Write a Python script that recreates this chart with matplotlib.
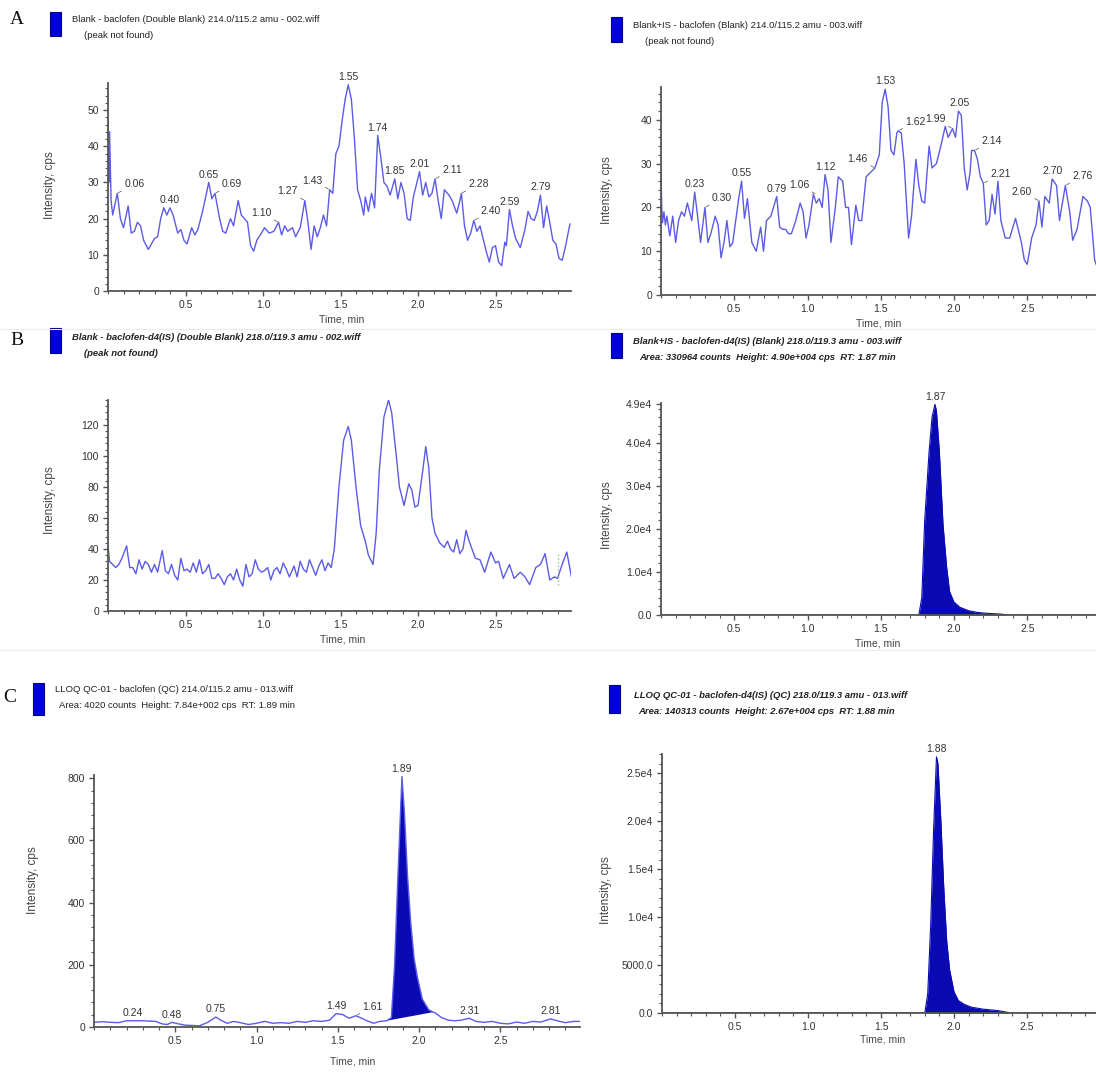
import numpy as np
import matplotlib
matplotlib.use("Agg")
import matplotlib.pyplot as plt
from matplotlib.patches import Rectangle
from matplotlib.ticker import MultipleLocator, AutoMinorLocator, FixedLocator, FixedFormatter

plt.rcParams['font.family'] = ['Liberation Sans', 'DejaVu Sans']

W, H = 1096, 1072

# ---------------- data ----------------
# A, left: baclofen, double blank
a1_t = [0.00, 0.005, 0.01, 0.02, 0.03, 0.045, 0.06, 0.08, 0.10, 0.13, 0.15, 0.17, 0.19, 0.21, 0.23,
        0.26, 0.28, 0.30, 0.32, 0.34, 0.36, 0.38, 0.40, 0.42, 0.45, 0.47, 0.49, 0.51, 0.54, 0.56,
        0.58, 0.61, 0.63, 0.65, 0.67, 0.69, 0.72, 0.74, 0.76, 0.79, 0.81, 0.84, 0.86, 0.88, 0.90,
        0.92, 0.94, 0.96, 0.99, 1.01, 1.04, 1.07, 1.10, 1.12, 1.14, 1.16, 1.19, 1.21, 1.24, 1.27,
        1.29, 1.31, 1.33, 1.35, 1.37, 1.39, 1.41, 1.43, 1.45, 1.47, 1.49, 1.51, 1.53, 1.55, 1.57,
        1.59, 1.61, 1.63, 1.65, 1.66, 1.68, 1.70, 1.72, 1.74, 1.76, 1.78, 1.80, 1.82, 1.85, 1.87,
        1.89, 1.91, 1.93, 1.95, 1.97, 2.01, 2.03, 2.05, 2.07, 2.09, 2.11, 2.13, 2.15, 2.17, 2.20,
        2.22, 2.25, 2.27, 2.28, 2.30, 2.32, 2.34, 2.36, 2.38, 2.40, 2.42, 2.44, 2.46, 2.48, 2.50,
        2.52, 2.54, 2.56, 2.57, 2.59, 2.61, 2.63, 2.66, 2.69, 2.71, 2.73, 2.75, 2.77, 2.79, 2.81,
        2.83, 2.85, 2.87, 2.89, 2.91, 2.93, 2.95, 2.98]
a1_y = [48, 30, 44, 25, 21, 24, 27, 20, 17.5, 23.5, 16, 16.5, 19, 18, 14,
        11.5, 13, 14.5, 15, 20, 23, 21, 23, 21, 16, 17, 14, 13, 17.5, 15.5,
        17, 22, 26, 30, 25.5, 27, 20, 16.5, 16, 20, 18, 25, 21, 20, 19,
        12.5, 11, 14, 16, 17.5, 16, 16.5, 19, 15.5, 18, 16.5, 17.5, 15, 17.5, 25,
        19, 11.5, 18, 15, 17.5, 21, 18, 28, 27, 38, 40, 47, 53, 57, 53,
        42, 28, 25, 21, 26, 22, 27, 23, 43, 37, 30, 29, 26.5, 31, 25.5,
        30, 27, 20, 19.5, 26, 33, 26.5, 30, 26, 27, 31, 25, 20, 28, 26.5,
        25, 21.5, 25, 27, 18, 14, 16, 19.5, 16.5, 18, 14.5, 11, 8, 12, 12.5,
        8, 7, 13.5, 12.5, 22.5, 18, 14.5, 12, 17, 22, 20, 19.5, 22, 26.5, 17.5,
        23.5, 19, 14, 13, 9, 8.5, 12, 18.5]
a1_labels = [("0.06", 0.06, 27, 'r'), ("0.40", 0.40, 23, 'c'), ("0.65", 0.65, 30, 'c'),
             ("0.69", 0.69, 27, 'r'), ("1.10", 1.10, 19, 'l'), ("1.27", 1.27, 25, 'l'),
             ("1.43", 1.43, 28, 'l'), ("1.55", 1.55, 57, 'c'), ("1.74", 1.74, 43, 'c'),
             ("1.85", 1.85, 31, 'c'), ("2.01", 2.01, 33, 'c'), ("2.11", 2.11, 31, 'r'),
             ("2.28", 2.28, 27, 'r'), ("2.40", 2.36, 19.5, 'r'), ("2.59", 2.59, 22.5, 'c'),
             ("2.79", 2.79, 26.5, 'c')]

# A, right: baclofen, blank + IS
a2_t = [0.00, 0.005, 0.01, 0.02, 0.03, 0.04, 0.06, 0.08, 0.10, 0.12, 0.14, 0.16, 0.18, 0.21, 0.23,
        0.25, 0.27, 0.30, 0.32, 0.34, 0.37, 0.39, 0.41, 0.43, 0.45, 0.47, 0.49, 0.51, 0.53, 0.55,
        0.57, 0.59, 0.62, 0.65, 0.68, 0.70, 0.72, 0.75, 0.79, 0.81, 0.83, 0.85, 0.87, 0.89, 0.92,
        0.95, 0.97, 0.99, 1.01, 1.04, 1.06, 1.08, 1.10, 1.12, 1.14, 1.16, 1.19, 1.21, 1.24, 1.26,
        1.28, 1.30, 1.33, 1.35, 1.37, 1.40, 1.43, 1.46, 1.49, 1.51, 1.53, 1.55, 1.57, 1.59, 1.61,
        1.62, 1.64, 1.66, 1.69, 1.71, 1.74, 1.76, 1.78, 1.80, 1.83, 1.85, 1.88, 1.91, 1.94, 1.96,
        1.99, 2.01, 2.03, 2.05, 2.07, 2.09, 2.11, 2.12, 2.14, 2.16, 2.18, 2.20, 2.22, 2.24, 2.26,
        2.28, 2.30, 2.32, 2.35, 2.38, 2.42, 2.46, 2.48, 2.50, 2.53, 2.56, 2.58, 2.60, 2.62, 2.65,
        2.67, 2.70, 2.72, 2.76, 2.79, 2.81, 2.84, 2.88, 2.91, 2.93, 2.96, 2.97]
a2_y = [28, 20, 16.5, 19, 16, 18, 13.5, 18, 12, 17, 19, 18, 21, 17, 23.5,
        18, 12, 20, 12, 14, 18, 16, 8.5, 12, 17, 11, 12, 17, 22, 26,
        17.5, 22, 12, 10, 15.5, 10, 17, 18, 22.5, 15.5, 15, 15, 14, 14, 17,
        21, 19, 13, 16, 23, 21, 22, 20, 27.5, 24, 12, 20, 27, 26, 20,
        20, 11.5, 20.5, 17, 17, 27, 28, 29, 32, 44, 47, 43, 33, 32, 37,
        37.5, 37, 30, 13, 18, 31, 25, 21.5, 21, 34, 29, 30, 34, 38.5, 36,
        38, 36, 42, 41, 29, 24, 28, 33, 33, 31, 27, 25.5, 16, 17, 23,
        18.5, 26, 17, 13, 13, 17.5, 12, 8, 7, 13, 16, 21.5, 15.5, 22.5, 21,
        26.5, 25, 17, 25, 19, 12.5, 15, 22.5, 21.5, 20, 8, 7]
a2_labels = [("0.23", 0.23, 23.5, 'c'), ("0.30", 0.30, 20, 'r'), ("0.55", 0.55, 26, 'c'),
             ("0.79", 0.79, 22.5, 'c'), ("1.06", 1.06, 23, 'l'), ("1.12", 1.12, 27.5, 'c'),
             ("1.46", 1.46, 29, 'l'), ("1.53", 1.53, 47, 'c'), ("1.62", 1.62, 37.5, 'r'),
             ("1.99", 1.99, 38, 'l'), ("2.05", 2.04, 42, 'c'), ("2.14", 2.14, 33, 'r'),
             ("2.21", 2.20, 25.5, 'r'), ("2.60", 2.58, 21.5, 'l'), ("2.70", 2.67, 26.5, 'c'),
             ("2.76", 2.76, 25, 'r')]

# B, left: baclofen-d4 (IS), double blank
b1_t = [0.00, 0.01, 0.03, 0.05, 0.07, 0.09, 0.12, 0.14, 0.16, 0.18, 0.20, 0.22, 0.24, 0.26, 0.28,
        0.30, 0.32, 0.35, 0.37, 0.39, 0.41, 0.43, 0.45, 0.47, 0.49, 0.51, 0.53, 0.55, 0.57, 0.59,
        0.61, 0.63, 0.65, 0.67, 0.69, 0.71, 0.73, 0.75, 0.77, 0.79, 0.81, 0.83, 0.85, 0.87, 0.89,
        0.91, 0.93, 0.95, 0.97, 0.99, 1.01, 1.03, 1.05, 1.07, 1.09, 1.11, 1.13, 1.15, 1.17, 1.20,
        1.22, 1.24, 1.26, 1.28, 1.30, 1.32, 1.34, 1.36, 1.38, 1.40, 1.42, 1.44, 1.46, 1.49, 1.52,
        1.55, 1.57, 1.60, 1.63, 1.66, 1.68, 1.71, 1.73, 1.75, 1.78, 1.81, 1.83, 1.86, 1.88, 1.91,
        1.94, 1.96, 1.98, 2.00, 2.03, 2.05, 2.07, 2.09, 2.11, 2.14, 2.17, 2.19, 2.21, 2.23, 2.25,
        2.27, 2.29, 2.31, 2.33, 2.37, 2.40, 2.43, 2.47, 2.50, 2.52, 2.55, 2.59, 2.62, 2.66, 2.69,
        2.72, 2.76, 2.79, 2.82, 2.85, 2.88, 2.90, 2.93, 2.96, 2.99]
b1_y = [42, 32, 30, 28, 30, 34, 42, 28, 28, 24, 33, 27, 32, 30, 25,
        30, 25, 39, 26, 24, 30, 23, 20, 34, 26, 27, 25, 31, 25, 33,
        24, 26, 30, 21, 21, 24, 21, 17, 22, 24, 20, 27, 20, 16, 30,
        22, 24, 33, 27, 25, 26, 28, 20, 26, 28, 24, 31, 27, 22, 29,
        22, 32, 27, 25, 33, 28, 23, 29, 33, 26, 31, 28, 40, 80, 110,
        119, 110, 80, 55, 45, 36, 30, 50, 90, 125, 136, 128, 100, 80, 68,
        82, 78, 67, 68, 90, 106, 92, 60, 50, 44, 41, 45, 40, 38, 46,
        37, 40, 52, 45, 34, 33, 25, 38, 31, 32, 21, 30, 21, 25, 22,
        17, 28, 30, 37, 20, 22, 21, 30, 38, 22]
b1_marker_t = 2.90

# B, right: baclofen-d4 (IS), blank + IS
b2_t = [0.00, 1.76, 1.78, 1.80, 1.83, 1.85, 1.87, 1.88, 1.90, 1.925, 1.95, 1.97, 2.00, 2.04, 2.10,
        2.16, 2.22, 2.28, 2.33, 2.37, 2.98]
b2_y = [0, 0, 4000, 22000, 38000, 46000, 49000, 47500, 38000, 21000, 11000, 5400, 3000, 1800, 1000,
        600, 400, 280, 180, 0, 0]
b2_labels = [("1.87", 1.87, 49000, 'c')]

# C, left: baclofen, LLOQ QC
c1_t = [0.00, 0.05, 0.10, 0.15, 0.20, 0.24, 0.30, 0.38, 0.42, 0.45, 0.48, 0.52, 0.56, 0.60, 0.65,
        0.70, 0.75, 0.78, 0.82, 0.86, 0.90, 0.95, 1.00, 1.05, 1.10, 1.15, 1.20, 1.25, 1.30, 1.35,
        1.40, 1.45, 1.49, 1.53, 1.57, 1.61, 1.64, 1.68, 1.72, 1.76, 1.80, 1.83, 1.85, 1.87, 1.895,
        1.91, 1.93, 1.95, 1.97, 1.99, 2.02, 2.06, 2.10, 2.14, 2.18, 2.22, 2.26, 2.31, 2.35, 2.40,
        2.45, 2.50, 2.55, 2.60, 2.65, 2.70, 2.75, 2.81, 2.85, 2.90, 2.95, 2.99]
c1_y = [15, 17, 15, 14, 20, 20, 20, 18, 10, 8, 15, 10, 6, 5, 4,
        15, 32, 22, 12, 18, 14, 8, 12, 18, 12, 14, 12, 18, 15, 20,
        18, 22, 43, 40, 28, 36, 30, 20, 12, 18, 20, 30, 200, 480, 805,
        690, 480, 330, 220, 160, 90, 55, 45, 30, 22, 20, 22, 28, 18, 15,
        18, 12, 10, 16, 12, 18, 16, 26, 20, 14, 18, 18]
# integrated region of the LLOQ peak (baseline drawn between its two ends)
c1_peak_t = [1.80, 1.83, 1.85, 1.87, 1.895, 1.91, 1.93, 1.95, 1.97, 1.99, 2.02, 2.06, 2.09]
c1_peak_y = [20, 30, 200, 480, 805, 690, 480, 330, 220, 160, 90, 55, 48]
c1_base = [(1.80, 20), (2.09, 48)]
c1_labels = [("0.24", 0.24, 20, 'c'), ("0.48", 0.48, 15, 'c'), ("0.75", 0.75, 32, 'c'),
             ("1.49", 1.49, 43, 'c'), ("1.61", 1.61, 36, 'r'), ("1.89", 1.895, 805, 'c'),
             ("2.31", 2.31, 28, 'c'), ("2.81", 2.81, 26, 'c')]

# C, right: baclofen-d4 (IS), LLOQ QC
c2_t = [0.00, 1.80, 1.82, 1.84, 1.86, 1.88, 1.89, 1.91, 1.93, 1.95, 1.97, 2.00, 2.03, 2.07, 2.12,
        2.20, 2.30, 2.39, 2.98]
c2_y = [0, 0, 2000, 9000, 19000, 26700, 26000, 20000, 13000, 7500, 4500, 2200, 1300, 900, 600,
        400, 250, 0, 0]
c2_labels = [("1.88", 1.88, 26700, 'c')]

titles = {
    'a1': ("Blank - baclofen (Double Blank) 214.0/115.2 amu - 002.wiff", "(peak not found)"),
    'a2': ("Blank+IS - baclofen (Blank) 214.0/115.2 amu - 003.wiff", "(peak not found)"),
    'b1': ("Blank - baclofen-d4(IS) (Double Blank) 218.0/119.3 amu - 002.wiff", "(peak not found)"),
    'b2': ("Blank+IS - baclofen-d4(IS) (Blank) 218.0/119.3 amu - 003.wiff",
           "Area: 330964 counts  Height: 4.90e+004 cps  RT: 1.87 min"),
    'c1': ("LLOQ QC-01 - baclofen (QC) 214.0/115.2 amu - 013.wiff",
           "Area: 4020 counts  Height: 7.84e+002 cps  RT: 1.89 min"),
    'c2': ("LLOQ QC-01 - baclofen-d4(IS) (QC) 218.0/119.3 amu - 013.wiff",
           "Area: 140313 counts  Height: 2.67e+004 cps  RT: 1.88 min"),
}

LINE = '#5b5be8'
FILL = '#0a0ab4'
AXC = '#555555'
TXT = '#333333'


def fx(x):
    return x / W


def fy(y):
    return 1 - y / H


def make_axes(fig, x0, y_bot, y_top, xmax, px_per_min):
    ax = fig.add_axes([fx(x0), fy(y_bot), xmax * px_per_min / W, (y_bot - y_top) / H])
    ax.set_xlim(0, xmax)
    for s in ('top', 'right'):
        ax.spines[s].set_visible(False)
    for s in ('left', 'bottom'):
        ax.spines[s].set_color(AXC)
        ax.spines[s].set_linewidth(1.3)
    ax.xaxis.set_major_locator(FixedLocator([0.5, 1.0, 1.5, 2.0, 2.5]))
    ax.xaxis.set_minor_locator(MultipleLocator(0.1))
    ax.yaxis.set_minor_locator(AutoMinorLocator(5))
    ax.tick_params(which='both', direction='out', color=AXC, labelsize=7.5, labelcolor=TXT, pad=3)
    ax.tick_params(which='major', length=3.5, width=1)
    ax.tick_params(which='minor', length=2, width=0.8)
    ax.set_facecolor('none')
    return ax


def peak_labels(ax, labels):
    for text, t, y, side in labels:
        if side == 'c':
            ax.annotate(text, (t, y), xytext=(0, 2), textcoords='offset points',
                        ha='center', va='bottom', fontsize=7.5, color=TXT)
        else:
            dx = 5 if side == 'r' else -5
            ax.annotate(text, (t, y), xytext=(dx, 3), textcoords='offset points',
                        ha='left' if side == 'r' else 'right', va='bottom', fontsize=7.5,
                        color=TXT,
                        arrowprops=dict(arrowstyle='-', color='#666666', lw=0.6,
                                        shrinkA=0, shrinkB=1))


def header(fig, key, x, y, sq, bold=False, letter=None, dx2=12):
    line1, line2 = titles[key]
    style = dict(fontsize=6.8, color='#222222', va='center', ha='left')
    if bold:
        style.update(fontweight='bold', fontstyle='italic')
    fig.text(fx(x), fy(y), line1, **style)
    fig.text(fx(x + dx2), fy(y + 16), line2, **style)
    sx, sy0, sy1 = sq
    fig.patches.append(Rectangle((fx(sx), fy(sy1)), 11 / W, (sy1 - sy0) / H,
                                 transform=fig.transFigure, facecolor='#0000dd',
                                 edgecolor='#000080', lw=0.8))
    if letter:
        fig.text(fx(letter[1]), fy(letter[2]), letter[0], family='Liberation Serif',
                 fontsize=14, va='center', ha='left', color='#111111')


def axis_texts(fig, ylab_xy, xlab_xy):
    fig.text(fx(ylab_xy[0]), fy(ylab_xy[1]), "Intensity, cps", rotation=90, fontsize=8.5,
             color='#444444', ha='center', va='center')
    if xlab_xy:
        fig.text(fx(xlab_xy[0]), fy(xlab_xy[1]), "Time, min", fontsize=7.5, color='#444444',
                 ha='center', va='center')


fig = plt.figure(figsize=(W / 100, H / 100), dpi=100)

# ---- A left
ax = make_axes(fig, 108, 291, 83, 2.99, 155)
ax.plot(a1_t, a1_y, color=LINE, lw=1.0)
ax.set_ylim(0, 57.5)
ax.yaxis.set_major_locator(MultipleLocator(10))
peak_labels(ax, a1_labels)
header(fig, 'a1', 72, 20, (50, 12, 36), letter=("A", 10, 20))
axis_texts(fig, (50, 185), (342, 320))

# ---- A right
ax = make_axes(fig, 661, 295, 87, 2.99, 146.5)
ax.plot(a2_t, a2_y, color=LINE, lw=1.0)
ax.set_ylim(0, 47.5)
ax.yaxis.set_major_locator(MultipleLocator(10))
peak_labels(ax, a2_labels)
header(fig, 'a2', 633, 25, (611, 17, 42))
axis_texts(fig, (607, 190), (879, 323))

# faint separators between the screenshot rows
for yy in (329, 650):
    fig.add_artist(plt.Line2D([0, 1], [fy(yy), fy(yy)], color='#ececec', lw=0.8,
                              transform=fig.transFigure))

# ---- B left
ax = make_axes(fig, 108, 611, 400, 2.99, 155)
ax.plot(b1_t, b1_y, color=LINE, lw=1.0)
ax.vlines(b1_marker_t, 17, 37, colors='#8fbf8f', linestyles=':', lw=1.0)
ax.set_ylim(0, 136)
ax.yaxis.set_major_locator(MultipleLocator(20))
header(fig, 'b1', 72, 337, (50, 328, 353), bold=True, letter=("B", 10, 340))
axis_texts(fig, (50, 500), (343, 640))

# ---- B right
ax = make_axes(fig, 661, 615, 403, 2.99, 146.5)
ax.fill_between(b2_t, b2_y, 0, color=FILL, lw=0)
ax.plot(b2_t, b2_y, color=FILL, lw=0.8)
ax.set_ylim(0, 49300)
ax.yaxis.set_major_locator(FixedLocator([0, 1e4, 2e4, 3e4, 4e4, 4.9e4]))
ax.yaxis.set_major_formatter(FixedFormatter(["0.0", "1.0e4", "2.0e4", "3.0e4", "4.0e4", "4.9e4"]))
ax.yaxis.set_minor_locator(MultipleLocator(2000))
peak_labels(ax, b2_labels)
header(fig, 'b2', 633, 342, (611, 333, 358), bold=True, dx2=6)
axis_texts(fig, (607, 515), (878, 643))

# ---- C left
ax = make_axes(fig, 94, 1027, 775, 2.99, 162.5)
ax.plot(c1_t, c1_y, color=LINE, lw=1.0)
poly_t = c1_peak_t + [c1_base[1][0], c1_base[0][0]]
poly_y = c1_peak_y + [c1_base[1][1], c1_base[0][1]]
ax.fill(poly_t, poly_y, color=FILL, lw=0)
ax.set_ylim(0, 810)
ax.yaxis.set_major_locator(MultipleLocator(200))
peak_labels(ax, c1_labels)
header(fig, 'c1', 55, 690, (33, 683, 715), letter=("C", 3, 698), dx2=4)
axis_texts(fig, (33, 880), (353, 1062))

# ---- C right
ax = make_axes(fig, 662, 1013, 754, 2.99, 146)
ax.fill_between(c2_t, c2_y, 0, color=FILL, lw=0)
ax.plot(c2_t, c2_y, color=FILL, lw=0.8)
ax.set_ylim(0, 27000)
ax.yaxis.set_major_locator(FixedLocator([0, 5000, 1e4, 1.5e4, 2e4, 2.5e4]))
ax.yaxis.set_major_formatter(FixedFormatter(["0.0", "5000.0", "1.0e4", "1.5e4", "2.0e4", "2.5e4"]))
ax.yaxis.set_minor_locator(MultipleLocator(1000))
peak_labels(ax, c2_labels)
header(fig, 'c2', 634, 695, (609, 685, 713), bold=True, dx2=4)
axis_texts(fig, (606, 890), (883, 1040))

fig.savefig("out.png", dpi=100)
